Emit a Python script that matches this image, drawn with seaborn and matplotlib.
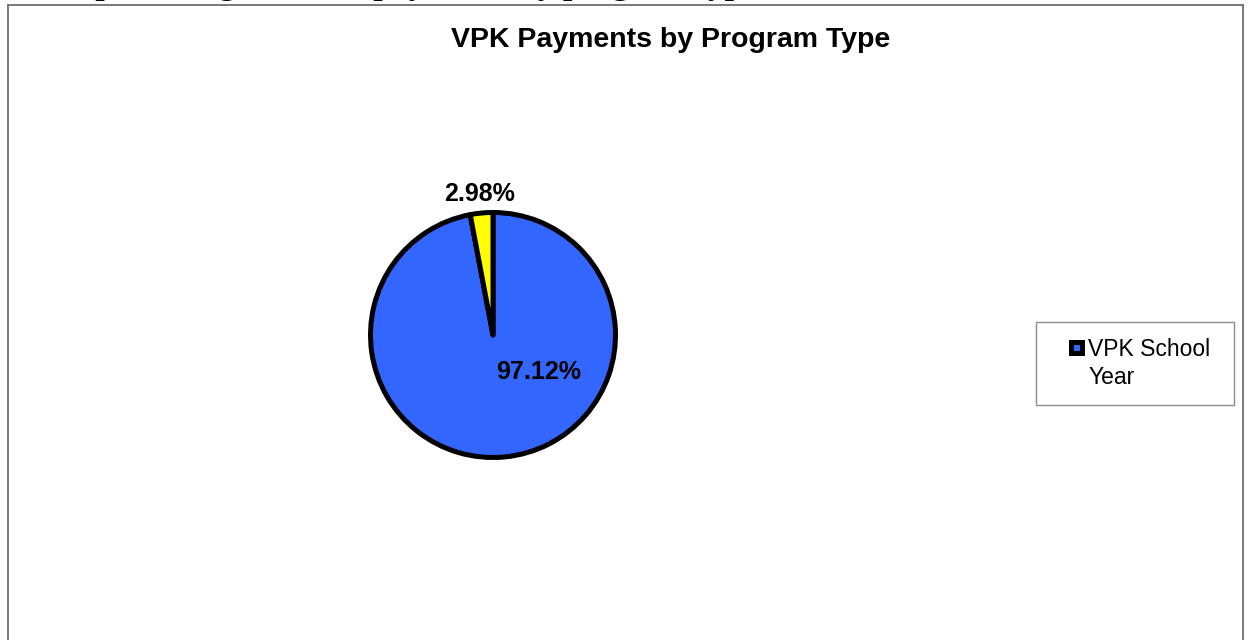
import math
import matplotlib
matplotlib.use("Agg")
import matplotlib.pyplot as plt
from matplotlib.patches import Patch, Rectangle
from matplotlib.lines import Line2D
from matplotlib.legend_handler import HandlerPatch
import seaborn as sns

# Share of VPK payments by program type (percent)
programs = ["VPK School Year", "VPK Summer"]
shares = [97.12, 2.98]
legend_labels = ["VPK School\nYear"]

caption = "Total percentage of VPK payments by program type"
title = "VPK Payments by Program Type"

sns.set_theme(style="white")
plt.rcParams["font.family"] = ["Liberation Sans", "DejaVu Sans"]
plt.rcParams["text.color"] = "black"

colors = ["#3366FF", "#FFFF00"]

W, H = 1250, 640
fig = plt.figure(figsize=(W / 100, H / 100), dpi=100)
fig.patch.set_facecolor("white")

# Chart frame (open at the bottom, cut by the page)
frame_kw = dict(color="#6e6e6e", linewidth=1.3, transform=fig.transFigure)
x0, x1, ytop = 7.5 / W, 1242.5 / W, 1 - 4.5 / H
fig.add_artist(Line2D([x0, x0], [0, ytop], **frame_kw))
fig.add_artist(Line2D([x1, x1], [0, ytop], **frame_kw))
fig.add_artist(Line2D([x0, x1], [ytop, ytop], **frame_kw))

# Page caption above the chart, cut off by the top edge
fig.text(14 / W, 1 + 6 / H, caption, family="Liberation Serif",
         fontweight="bold", fontsize=24, va="baseline", ha="left",
         color="black")

fig.text(671 / W, 1 - 40 / H, title, fontsize=20.5, fontweight="bold",
         ha="center", va="center")

# Pie axes: centre (493, 335) px, radius 122.5 px
cx, cy, r = 493, 335, 122.5
lim = 1.6
ax = fig.add_axes([(cx - r * lim) / W, 1 - (cy + r * lim) / H,
                   2 * r * lim / W, 2 * r * lim / H])
wedges, _ = ax.pie(shares, colors=colors, startangle=90, counterclock=False,
                   wedgeprops=dict(edgecolor="black", linewidth=3.6,
                                   joinstyle="round"))
ax.set_xlim(-lim, lim)
ax.set_ylim(-lim, lim)
ax.set_aspect("equal")
ax.axis("off")

# Value labels
ax.text(0.37, -0.30, f"{shares[0]:.2f}%", fontsize=18, fontweight="bold",
        ha="center", va="center")
mid = math.radians(90 + shares[1] * 3.6 / 2)
ax.text(1.16 * math.cos(mid), 1.16 * math.sin(mid), f"{shares[1]:.2f}%",
        fontsize=18, fontweight="bold", ha="center", va="center")


# Legend: small square key beside the first text line
def square_key(legend, orig_handle, xdescent, ydescent, width, height,
               fontsize):
    s = 8.0
    return Rectangle((-xdescent + width - s - 1.5,
                      -ydescent + (height - s) / 2 + 12.0), s, s)


handles = [Patch(facecolor=colors[0], edgecolor="black", linewidth=3.6,
                 joinstyle="round")]
leg = fig.legend(handles, legend_labels, loc="upper left",
                 bbox_to_anchor=(1036 / W, 1 - 404 / H, 198 / W, 82 / H),
                 mode="expand", fontsize=16.5, frameon=True, fancybox=False,
                 handlelength=1.4, handleheight=0.7, handletextpad=0.2,
                 borderaxespad=0, borderpad=0.69,
                 handler_map={Patch: HandlerPatch(patch_func=square_key)})
for t in leg.get_texts():
    t.set_linespacing(1.3)
leg.get_frame().set_edgecolor("#6e6e6e")
leg.get_frame().set_linewidth(1.0)
leg.get_frame().set_boxstyle("square", pad=0)

fig.savefig("out.png", dpi=100, facecolor="white")
